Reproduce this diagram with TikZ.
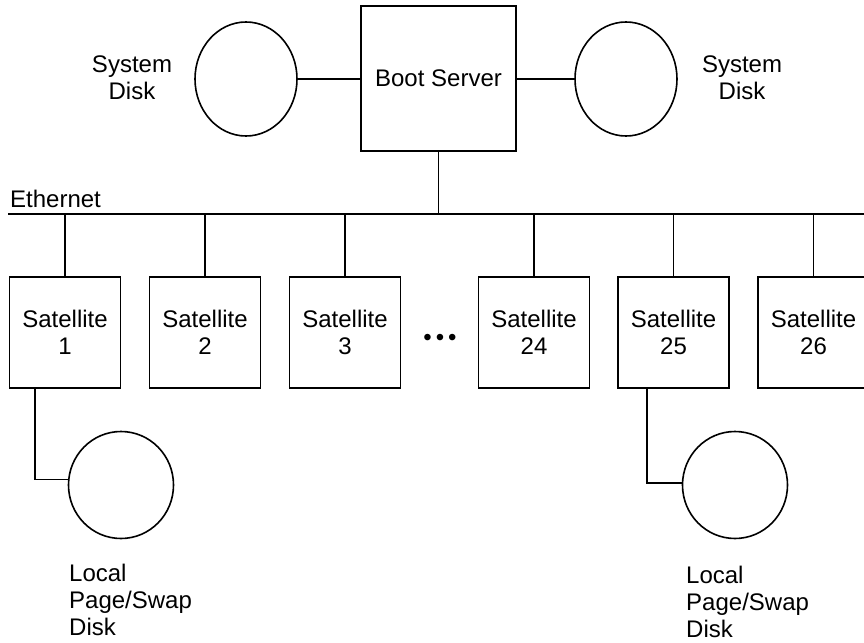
\documentclass[tikz,border=0pt]{standalone}
\usepackage{fontspec}
\setmainfont{Liberation Sans}
\usetikzlibrary{shapes.geometric}
\begin{document}
\begin{tikzpicture}[x=1pt,y=-1pt,
  every node/.style={font=\fontsize{24}{27}\selectfont, inner sep=0pt},
  ln/.style={line width=1.8pt, line join=miter},
  satbox/.style={draw, line width=1.8pt, minimum width=111pt, minimum height=111pt, align=center},
  disk/.style={draw, line width=1.6pt, ellipse},
  lbl/.style={align=center},
  lbll/.style={align=left, anchor=north west}]
\useasboundingbox (0,0) rectangle (864,642);
\clip (0,0) rectangle (864,642);
% boot server and system disks
\node[satbox, minimum width=155pt, minimum height=145pt] (boot) at (438.5,78.5) {Boot Server};
\node[disk, minimum width=102pt, minimum height=114pt] (sdl) at (246,79) {};
\node[disk, minimum width=102pt, minimum height=114pt] (sdr) at (626,79) {};
\node[lbl] (sdlt) at (132,78) {System\\Disk};
\node[lbl] (sdrt) at (742,78) {System\\Disk};
\draw[ln] (sdl.east) -- (sdl.east -| boot.west);
\draw[ln] (boot.east |- sdr.west) -- (sdr.west);
% ethernet
\coordinate (ethA) at (8,214);
\coordinate (ethB) at (870,214);
\draw[ln] (ethA) -- (ethB);
\node[anchor=base west] (etht) at (10,207) {Ethernet};
\draw[ln] (boot.south) -- (boot.south |- ethA);
% satellites
\node[satbox] (s1) at (65,332.5) {Satellite\\1};
\node[satbox] (s2) at (205,332.5) {Satellite\\2};
\node[satbox] (s3) at (345,332.5) {Satellite\\3};
\node (dots) at (440,340) {\textbullet\,\textbullet\,\textbullet};
\node[satbox] (s24) at (534,332.5) {Satellite\\24};
\node[satbox] (s25) at (673.5,332.5) {Satellite\\25};
\node[satbox] (s26) at (813.5,332.5) {Satellite\\26};
\foreach \s in {s1,s2,s3,s24,s25,s26}{
  \draw[ln] (\s.north) -- (\s.north |- ethA);
}
% local disks
\node[disk, minimum width=105pt, minimum height=107pt] (ld1) at (121,485) {};
\node[disk, minimum width=105pt, minimum height=107pt] (ld2) at (735,485) {};
\coordinate (d1) at (35,388);
\coordinate (d25) at (647,388);
\draw[ln] (d1) |- (ld1.174);
\draw[ln] (d25) |- (ld2.178);
\node[lbll] (ld1t) at (69,564) {Local\\Page/Swap\\Disk};
\node[lbll] (ld2t) at (686,566) {Local\\Page/Swap\\Disk};
\end{tikzpicture}
\end{document}
